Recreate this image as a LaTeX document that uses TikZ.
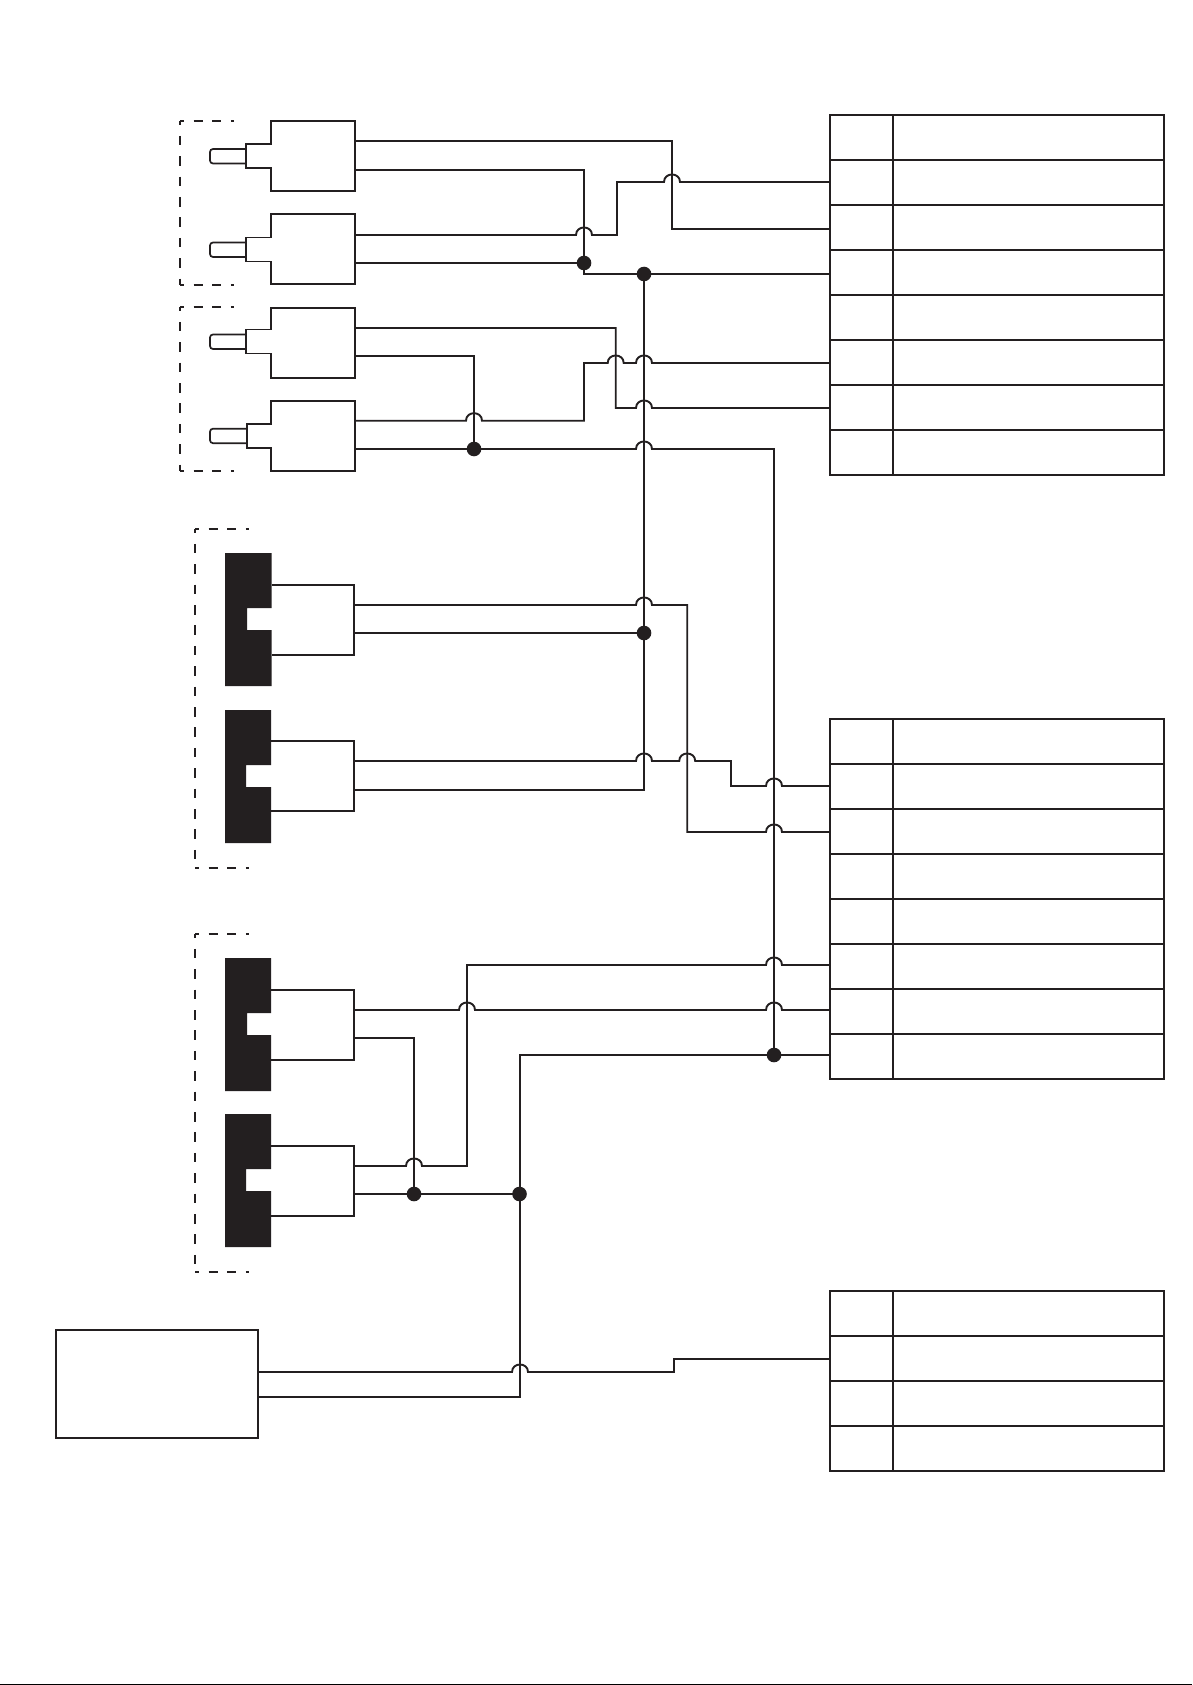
\documentclass[tikz,border=0pt]{standalone}
\definecolor{ink}{HTML}{231F20}
\tikzset{
  x=1pt,y=-1pt,
  wire/.style={draw=ink,line width=1.9pt,line join=miter},
  outline/.style={draw=ink,line width=1.9pt,line join=miter},
  hop/.style 2 args={insert path={-- (#1-8,#2) .. controls (#1-8,#2-10) and (#1+8,#2-10) .. (#1+8,#2)}},
  dot/.style={circle,fill=ink,draw=none,minimum size=14.6pt,inner sep=0pt,outer sep=0pt},
  numcell/.style={rectangle,draw=ink,line width=1.9pt,minimum width=63pt,minimum height=45pt,inner sep=0pt,outer sep=0pt},
  textcell/.style={rectangle,draw=ink,line width=1.9pt,minimum width=271pt,minimum height=45pt,inner sep=0pt,outer sep=0pt},
  sourcebox/.style={rectangle,draw=ink,line width=1.9pt,minimum width=202.4pt,minimum height=107.7pt,inner sep=0pt,outer sep=0pt},
  vdash/.style={draw=ink,line width=1.8pt,dash pattern=on 9.6pt off 10.8pt,dash phase=5.6pt},
  hdash/.style={draw=ink,line width=1.8pt,dash pattern=on 9pt off 9.6pt,dash phase=5pt},
}
\newcommand{\dashbracket}[4]{% left, top, bottom, right
  \draw[vdash] (#1,#2) -- (#1,#3);
  \draw[hdash] (#1,#2) -- (#4,#2);
  \draw[hdash] (#1,#3) -- (#4,#3);
}
\newcommand{\rcaplug}[4]{% neck-left x, neck top, body top, pin top
  \draw[outline,fill=white] (270.7,#3) -- (355,#3) -- (355,#3+70) -- (270.7,#3+70) -- (270.7,#4+19) -- (#1,#4+19) -- (#1,#4-5) -- (270.7,#4-5) -- cycle;
  \draw[draw=ink,line width=1.7pt,rounded corners=3pt] (#1,#4) -- (210,#4) -- (210,#4+14.5) -- (#1,#4+14.5);
}
\newcommand{\blockplug}[5]{% right x, top, notch x, notch top, box top
  \fill[ink] (225,#2) -- (#1,#2) -- (#1,#4) -- (#3,#4) -- (#3,#4+22) -- (#1,#4+22) -- (#1,#2+133) -- (225,#2+133) -- cycle;
  \draw[outline] (#1,#5) -- (354,#5) -- (354,#5+70) -- (#1,#5+70);
}
\begin{document}
\begin{tikzpicture}
\useasboundingbox (0,0) rectangle (1192,1685);
\fill[white] (0,0) rectangle (1192,1685);
\fill[black] (0,1684) rectangle (1192,1685);

% dashed groups
\dashbracket{180}{121}{285}{234}
\dashbracket{180}{307}{471}{234}
\dashbracket{195}{529}{868}{249}
\dashbracket{195}{934}{1272}{249}

% plugs
\rcaplug{245.7}{143.5}{121}{149}
\rcaplug{245.7}{237.7}{213.7}{242.5}
\rcaplug{245.7}{329.7}{307.7}{334.5}
\rcaplug{246.7}{423.7}{400.7}{428.7}

% block connectors
\blockplug{271.7}{553}{247}{608}{585}
\blockplug{271}{710}{246}{765}{741}
\blockplug{271}{958}{247}{1013}{990}
\blockplug{271}{1114}{246}{1169}{1146}

% tables
\foreach \i in {1,...,8} {
  \node[numcell]  (ta\i) at (861.5,{92.5+45*\i}) {};
  \node[textcell] (tb\i) at (1028.5,{92.5+45*\i}) {};
  \node[numcell]  (ua\i) at (861.5,{696.5+45*\i}) {};
  \node[textcell] (ub\i) at (1028.5,{696.5+45*\i}) {};
}
\foreach \i in {1,...,4} {
  \node[numcell]  (va\i) at (861.5,{1268.5+45*\i}) {};
  \node[textcell] (vb\i) at (1028.5,{1268.5+45*\i}) {};
}
\node[sourcebox] (src) at (157.2,1383.85) {};

% wire ends
\coordinate (p1a) at (355,141);
\coordinate (p1b) at (355,170);
\coordinate (p2a) at (355,235);
\coordinate (p2b) at (355,263);
\coordinate (p3a) at (355,328);
\coordinate (p3b) at (355,356);
\coordinate (p4a) at (355,420.7);
\coordinate (p4b) at (355,449);
\coordinate (c1a) at (354,605);
\coordinate (c1b) at (354,633);
\coordinate (c2a) at (354,761);
\coordinate (c2b) at (354,790);
\coordinate (c3a) at (354,1010);
\coordinate (c3b) at (354,1038);
\coordinate (c4a) at (354,1166);
\coordinate (c4b) at (354,1194);
\coordinate (s1) at (258.4,1372);
\coordinate (s2) at (258.4,1397);
\coordinate (t2) at (830,182);
\coordinate (t3) at (830,229);
\coordinate (t4) at (830,274);
\coordinate (t6) at (830,363);
\coordinate (t7) at (830,408);
\coordinate (u2) at (830,786);
\coordinate (u3) at (830,832);
\coordinate (u6) at (830,965);
\coordinate (u7) at (830,1010);
\coordinate (u8) at (830,1055);
\coordinate (v2) at (830,1359);

% junctions
\node[dot] (d1) at (584,263) {};
\node[dot] (d2) at (644,274) {};
\node[dot] (d3) at (474,449) {};
\node[dot] (d4) at (644,633) {};
\node[dot] (d5) at (774,1055) {};
\node[dot] (d6) at (414,1194) {};
\node[dot] (d7) at (519.5,1194) {};

% wires, upper group
\draw[wire] (p1a) -- (672,141) -- (672,229) -- (t3);
\draw[wire] (p1b) -- (584,170) -- (584,274) -- (d2.center) -- (t4);
\draw[wire] (p2a) [hop={584}{235}] -- (617,235) -- (617,182) [hop={672}{182}] -- (t2);
\draw[wire] (p2b) -- (d1.center);
\draw[wire] (p3a) -- (615.7,328) -- (615.7,408) [hop={644}{408}] -- (t7);
\draw[wire] (p3b) -- (474,356) -- (d3.center);
\draw[wire] (p4a) [hop={474}{420.7}] -- (584,420.7) -- (584,363) [hop={615.7}{363}] [hop={644}{363}] -- (t6);
\draw[wire] (p4b) -- (d3.center) [hop={644}{449}] -- (774,449) -- (d5.center);

% wires, middle group
\draw[wire] (d2.center) -- (d4.center) -- (644,790) -- (c2b);
\draw[wire] (c1a) [hop={644}{605}] -- (687.2,605) -- (687.2,832) [hop={774}{832}] -- (u3);
\draw[wire] (c1b) -- (d4.center);
\draw[wire] (c2a) [hop={644}{761}] [hop={687.2}{761}] -- (731,761) -- (731,786) [hop={774}{786}] -- (u2);

% wires, lower group
\draw[wire] (c3a) [hop={467}{1010}] [hop={774}{1010}] -- (u7);
\draw[wire] (c3b) -- (414,1038) -- (d6.center);
\draw[wire] (c4a) [hop={414}{1166}] -- (467,1166) -- (467,965) [hop={774}{965}] -- (u6);
\draw[wire] (c4b) -- (d6.center) -- (d7.center);
\draw[wire] (u8) -- (d5.center) -- (520,1055) -- (520,1397) -- (s2);
\draw[wire] (s1) [hop={520}{1372}] -- (674,1372) -- (674,1359) -- (v2);
\end{tikzpicture}
\end{document}
